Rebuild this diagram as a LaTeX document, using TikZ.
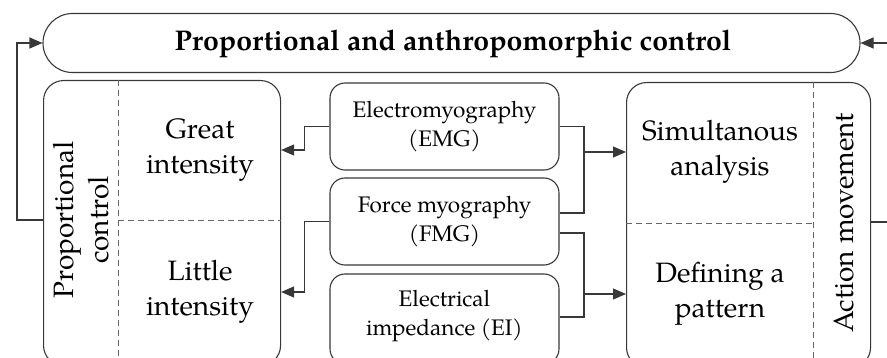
\documentclass[tikz,border=0pt]{standalone}
\usepackage{fontspec}
\setmainfont{TeX Gyre Pagella}
\usetikzlibrary{arrows.meta,calc}
\definecolor{edge}{gray}{0.22}
\definecolor{dashc}{gray}{0.4}
\tikzset{
  box/.style={draw=edge, line width=1.1pt, rounded corners=#1, inner sep=0pt},
  box/.default=20pt,
  sep/.style={draw=dashc, line width=0.9pt, dash pattern=on 6pt off 4pt},
  conn/.style={draw=edge, line width=1.1pt},
  arr/.style={conn, -{Triangle[length=13pt,width=11pt]}},
  big/.style={font=\fontsize{28}{35}\selectfont, align=center, inner sep=0pt},
  mid/.style={font=\fontsize{22.5}{29}\selectfont, align=center, inner sep=0pt},
}
\begin{document}
\begin{tikzpicture}[x=1pt,y=-1pt]
\useasboundingbox (0,0) rectangle (887,358);
% top box
\node[box=29.5pt, minimum width=817pt, minimum height=59pt] (T) at (451.5,43) {};
\node[font=\fontsize{28.5}{32}\selectfont\bfseries, inner sep=0pt] (Tt) at (453,44) {Proportional and anthropomorphic control};
% left box
\node[box, minimum width=237pt, minimum height=285pt, anchor=north west] (L) at (43,80) {};
\coordinate (Ld) at (118,80);
\coordinate (Lh) at (118,220);
\draw[sep] (Ld) -- (118,362);
\draw[sep] (Lh) -- (L.east |- Lh);
\node[big, rotate=90] (pc) at (81,220) {Proportional\\control};
\node[big] (gi) at (200,150) {Great\\intensity};
\node[big] (li) at (200,292) {Little\\intensity};
% middle boxes
\node[box=15pt, minimum width=229pt, minimum height=87pt] (EMG) at (444.5,126.5) {};
\node[mid] at (EMG) {Electromyography\\(EMG)};
\node[box=15pt, minimum width=229pt, minimum height=87pt] (FMG) at (444.5,221.5) {};
\node[mid] at (FMG) {Force myography\\(FMG)};
\node[box=15pt, minimum width=229pt, minimum height=90pt] (EI) at (444.5,319) {};
\node[mid] at (444.5,316) {Electrical\\impedance (EI)};
% right box
\node[box, minimum width=244pt, minimum height=285pt, anchor=north west] (R) at (626,82) {};
\coordinate (Rd) at (813,82);
\coordinate (Rh) at (626,223);
\draw[sep] (Rd) -- (813,362);
\draw[sep] (Rh) -- (813,223);
\node[big] (sa) at (720,152) {Simultanous\\analysis};
\node[big] (dp) at (720,294) {Defining a\\pattern};
\node[big, rotate=90] (am) at (844,223) {Action movement};
% connectors left
\draw[arr] (EMG.west) -- ++(-25,0) |- (L.east |- gi);
\draw[arr] (FMG.west) -- ++(-25,0) |- (L.east |- li);
% connectors right
\coordinate (j1) at (584,126.5);
\coordinate (j2) at (584,317);
\draw[conn] (EMG.east) -- (j1) |- (FMG.east |- 0,213);
\draw[conn] (FMG.east |- 0,233) -| (j2) -- (EI.east |- j2);
\draw[arr] (j1 |- sa) -- (R.west |- sa);
\draw[arr] (j1 |- dp) -- (R.west |- dp);
% feedback loops
\coordinate (lf) at (17,220);
\coordinate (rf) at (893,222);
\draw[arr] (L.west |- lf) -- (lf) |- (T.west);
\draw[arr] (R.east |- rf) -- (rf) |- (T.east);
\end{tikzpicture}
\end{document}
